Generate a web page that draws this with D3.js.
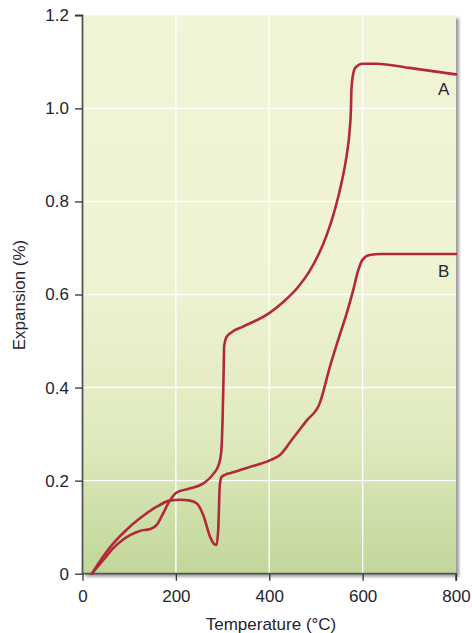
<!DOCTYPE html>
<html>
<head>
<meta charset="utf-8">
<script src="https://cdn.jsdelivr.net/npm/d3@7"></script>
<style>
  html, body { margin: 0; padding: 0; background: #ffffff; }
  svg { display: block; }
  text { font-family: "Liberation Sans", Arial, Helvetica, sans-serif; fill: #24252f; }
</style>
</head>
<body>
<svg id="chart" width="472" height="633"></svg>
<script>
// Dilatometer curves: expansion (%) versus temperature (°C)
const xTicks = [0, 200, 400, 600, 800];
const yTicks = [0, 0.2, 0.4, 0.6, 0.8, 1.0, 1.2];
const yTickLabels = ["0", "0.2", "0.4", "0.6", "0.8", "1.0", "1.2"];

const tempA = [20, 45, 66, 85, 102, 123, 145, 160, 172, 187, 202, 230, 259, 280, 292, 297, 300, 302, 303.5, 308, 318, 344, 400, 430, 460, 485, 505, 522, 537, 549, 558, 566, 572, 575, 576, 579, 585, 600, 630, 700, 800];
const expA  = [0, 0.03, 0.055, 0.072, 0.083, 0.092, 0.096, 0.106, 0.128, 0.157, 0.175, 0.183, 0.194, 0.214, 0.235, 0.26, 0.33, 0.42, 0.49, 0.508, 0.518, 0.531, 0.56, 0.584, 0.614, 0.648, 0.685, 0.725, 0.77, 0.815, 0.855, 0.9, 0.95, 1.0, 1.04, 1.07, 1.088, 1.096, 1.096, 1.087, 1.073];

const tempB = [20, 45, 66, 95, 123, 159, 187, 210, 230, 245, 259, 273, 283, 287, 291, 294, 298, 306, 316, 360, 400, 423, 450, 480, 508, 530, 550, 566, 580, 590, 600, 615, 640, 800];
const expB  = [0, 0.038, 0.065, 0.095, 0.119, 0.144, 0.157, 0.159, 0.157, 0.151, 0.125, 0.08, 0.063, 0.062, 0.10, 0.19, 0.208, 0.213, 0.216, 0.23, 0.243, 0.255, 0.29, 0.329, 0.366, 0.445, 0.51, 0.56, 0.61, 0.65, 0.675, 0.685, 0.687, 0.687];

const seriesNames = ["A", "B"];
const seriesLabelPos = [[786, 1.029], [786, 0.638]];

const svg = d3.select("#chart");
const x = d3.scaleLinear().domain([0, 800]).range([82.5, 456]);
const y = d3.scaleLinear().domain([0, 1.2]).range([573.7, 15.3]);

const defs = svg.append("defs");
const grad = defs.append("linearGradient")
  .attr("id", "bg").attr("x1", 0).attr("y1", 0).attr("x2", 0).attr("y2", 1);
grad.append("stop").attr("offset", "0%").attr("stop-color", "#f1f5d7");
grad.append("stop").attr("offset", "45%").attr("stop-color", "#eff3d3");
grad.append("stop").attr("offset", "75%").attr("stop-color", "#e0eabf");
grad.append("stop").attr("offset", "100%").attr("stop-color", "#c1d79a");
const blur = defs.append("filter").attr("id", "shadow")
  .attr("x", "-10%").attr("y", "-10%").attr("width", "120%").attr("height", "120%");
blur.append("feGaussianBlur").attr("stdDeviation", 1.6);

const x0 = x(0), x1 = x(800), yTop = y(1.2), yBot = y(0);

// drop shadow on the right and bottom of the plot panel
svg.append("rect")
  .attr("x", x0 + 3).attr("y", yTop + 3)
  .attr("width", x1 - x0).attr("height", yBot - yTop)
  .attr("fill", "#9a9a9a").attr("filter", "url(#shadow)");

// plot panel
svg.append("rect")
  .attr("x", x0).attr("y", yTop)
  .attr("width", x1 - x0).attr("height", yBot - yTop)
  .attr("fill", "url(#bg)");

// gridlines
const grid = svg.append("g").attr("stroke", "#ffffff").attr("stroke-width", 1.4);
grid.selectAll(".gx").data(xTicks.filter(t => t > 0 && t < 800)).join("line")
  .attr("x1", d => x(d)).attr("x2", d => x(d)).attr("y1", yTop).attr("y2", yBot);
grid.selectAll(".gy").data(yTicks.filter(t => t > 0 && t < 1.2)).join("line")
  .attr("x1", x0).attr("x2", x1).attr("y1", d => y(d)).attr("y2", d => y(d));

// axes
const yAxis = d3.axisLeft(y).tickValues(yTicks)
  .tickFormat((d, i) => yTickLabels[i]).tickSize(7.5).tickPadding(6);
const xAxis = d3.axisBottom(x).tickValues(xTicks)
  .tickFormat(d3.format("d")).tickSize(7).tickPadding(9.5);

const gy = svg.append("g").attr("transform", `translate(${x0},0)`).call(yAxis);
const gx = svg.append("g").attr("transform", `translate(0,${yBot})`).call(xAxis);
[gx, gy].forEach(g => {
  g.select(".domain").attr("stroke", "#555555").attr("stroke-width", 1.8);
  g.selectAll(".tick line").attr("stroke", "#333333").attr("stroke-width", 1.3);
  g.selectAll(".tick text").attr("font-size", 17)
    .attr("font-family", "'Liberation Sans', Arial, sans-serif").attr("fill", "#24252f");
});
gy.select(".domain").attr("d", `M-7.5,${yTop}H0V${yBot}`);
gx.select(".domain").attr("d", `M${x0},0H${x1}V7`);

// curves
const line = d3.line()
  .x(d => x(d[0])).y(d => y(d[1]))
  .curve(d3.curveMonotoneX);
const dataA = tempA.map((t, i) => [t, expA[i]]);
const dataB = tempB.map((t, i) => [t, expB[i]]);
svg.append("g").selectAll("path").data([dataA, dataB]).join("path")
  .attr("d", line)
  .attr("fill", "none")
  .attr("stroke", "#b3283a")
  .attr("stroke-width", 2.6)
  .attr("stroke-linejoin", "round")
  .attr("stroke-linecap", "round");

// curve labels
svg.append("g").selectAll("text").data(seriesNames).join("text")
  .attr("x", (d, i) => x(seriesLabelPos[i][0]))
  .attr("y", (d, i) => y(seriesLabelPos[i][1]))
  .attr("text-anchor", "end")
  .attr("font-size", 17)
  .text(d => d);

// axis titles
svg.append("text")
  .attr("x", 271).attr("y", 630)
  .attr("text-anchor", "middle").attr("font-size", 17)
  .text("Temperature (°C)");
svg.append("text")
  .attr("transform", "translate(24.5,295) rotate(-90)")
  .attr("text-anchor", "middle").attr("font-size", 17)
  .text("Expansion (%)");
</script>
</body>
</html>
